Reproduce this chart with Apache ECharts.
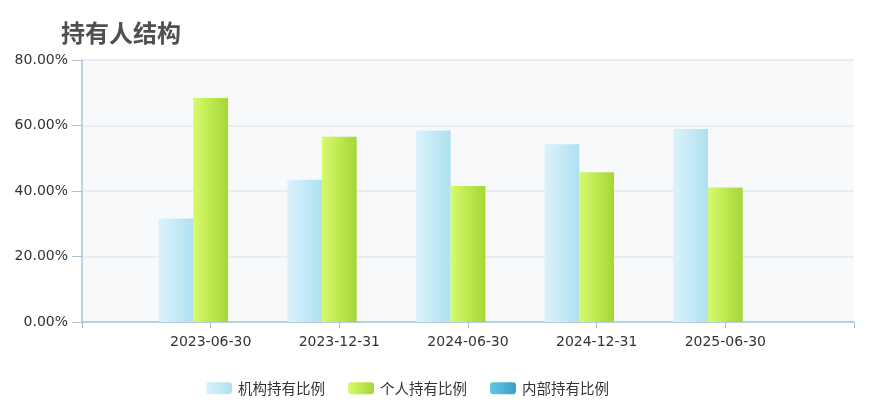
<!DOCTYPE html>
<html><head><meta charset="utf-8">
<script src="https://cdn.jsdelivr.net/npm/echarts@6/dist/echarts.min.js"></script>
<style>html,body{margin:0;padding:0;background:#fff}#c{width:870px;height:402px}</style>
</head><body><div id="c"></div>
<script>
const categories = ['', '2023-06-30', '2023-12-31', '2024-06-30', '2024-12-31', '2025-06-30', ''];
const institution = [null, 31.6, 43.4, 58.5, 54.3, 58.9, null];
const individual = [null, 68.4, 56.6, 41.5, 45.7, 41.1, null];
const insider = [null, 0, 0, 0, 0, 0, null];
const seriesNames = ['机构持有比例', '个人持有比例', '内部持有比例'];
const yTicks = [0, 20, 40, 60, 80];

const font = "'DejaVu Sans', 'Noto Sans CJK SC', sans-serif";
const cjk = "'Noto Sans CJK SC', sans-serif";
function grad(a, b) {
  return new echarts.graphic.LinearGradient(0, 0, 1, 0, [{offset: 0, color: a}, {offset: 1, color: b}]);
}
const chart = echarts.init(document.getElementById('c'), null, {renderer: 'canvas'});
chart.setOption({
  animation: false,
  title: {
    text: '持有人结构', left: 56, top: 16,
    textStyle: {fontSize: 24, fontWeight: 'bold', color: '#505050', fontFamily: cjk}
  },
  legend: {
    top: 376, left: 201, itemWidth: 26, itemHeight: 12, itemGap: 23,
    textStyle: {fontSize: 14.5, color: '#333', fontFamily: cjk, padding: [0, 0, 0, 1]},
    data: seriesNames
  },
  grid: {left: 82, right: 16, top: 60, bottom: 80, show: true, backgroundColor: '#f8f9fb', borderWidth: 0},
  xAxis: {
    type: 'category', data: categories, boundaryGap: false,
    axisLine: {lineStyle: {color: '#a9c3d6', width: 1.5}},
    axisTick: {show: true, length: 6, lineStyle: {color: '#a9c3d6'}, interval: 0},
    axisLabel: {color: '#333', fontSize: 14, fontFamily: font, margin: 13, interval: 0},
    splitLine: {show: false}
  },
  yAxis: {
    type: 'value', min: 0, max: 80, interval: 20,
    axisLine: {show: true, lineStyle: {color: '#a9c3d6', width: 1.5}},
    axisTick: {show: true, length: 10, lineStyle: {color: '#a9c3d6'}},
    axisLabel: {color: '#333', fontSize: 14, fontFamily: font, margin: 14,
      formatter: v => yTicks.includes(v) ? v.toFixed(2) + '%' : ''},
    splitLine: {lineStyle: {color: '#e4e9f1', width: 1.5}}
  },
  series: [
    {name: seriesNames[0], type: 'bar', data: institution, barGap: '0%', barCategoryGap: '19%',
      itemStyle: {color: grad('#dbf3fb', '#aee0f1')}},
    {name: seriesNames[1], type: 'bar', data: individual, barGap: '0%', barCategoryGap: '19%',
      itemStyle: {color: grad('#d6fa6c', '#a5d636')}},
    {name: seriesNames[2], type: 'bar', data: insider, barGap: '0%', barCategoryGap: '19%',
      itemStyle: {color: grad('#62c6e6', '#3b9fc7')}}
  ]
});
</script></body></html>
